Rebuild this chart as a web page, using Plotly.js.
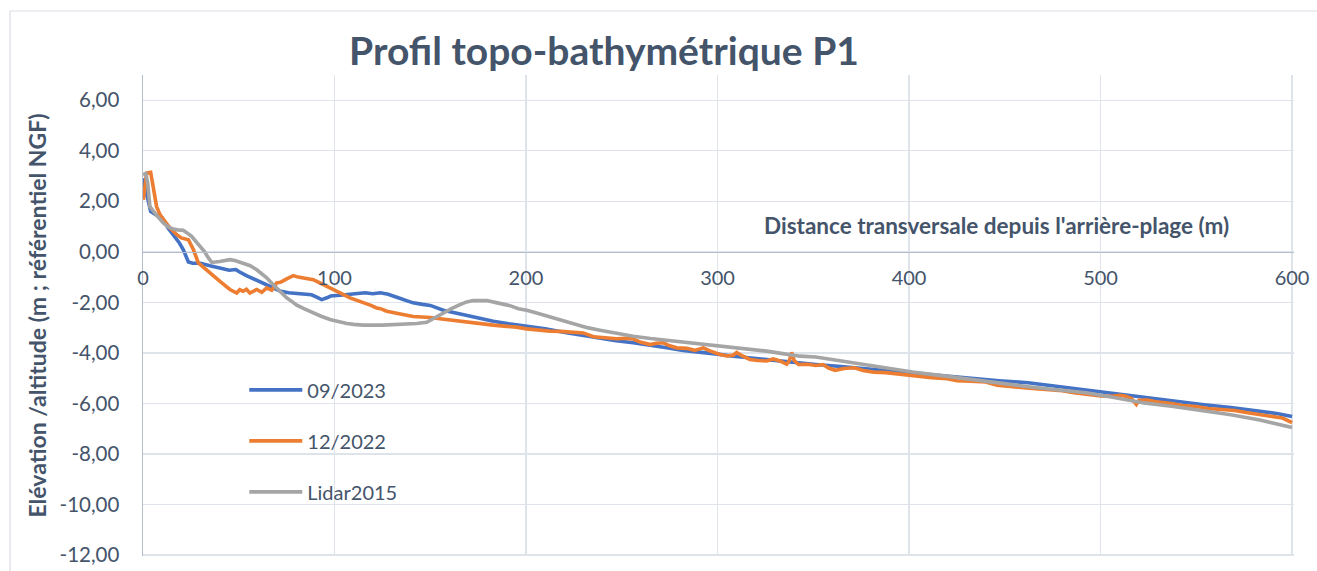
<!DOCTYPE html>
<html>
<head>
<meta charset="utf-8">
<script src="https://cdn.plot.ly/plotly-3.0.1.min.js"></script>
<style>html,body{margin:0;padding:0;background:#fff;}#chart{width:1317px;height:571px;}</style>
</head>
<body>
<div id="chart"></div>
<script>
// ---- Data ----
const seriesNames = ["09/2023", "12/2022", "Lidar2015"];

const x2023 = [0, 2, 4, 7, 10, 13, 16, 19, 21, 23.7, 26, 30, 35, 40, 45, 48.5, 50, 54, 58, 63, 67, 71.5, 76, 80, 84, 88, 91, 93.3, 96, 98, 103, 108, 112, 116, 120, 124, 128, 132.5, 137, 141, 146, 150, 156.8, 163, 169, 176, 182.9, 191, 200.4, 210, 221.2, 230, 238.6, 247, 256, 265, 273.5, 282, 290.9, 300, 308.2, 317, 325.7, 333, 339.6, 351.3, 366, 381.5, 401.8, 417, 432, 447, 462.2, 477, 492.5, 507, 522.7, 538, 552.9, 568, 583.2, 592, 600];
const y2023 = [2.91, 2.2, 1.6, 1.45, 1.35, 0.95, 0.67, 0.35, 0.09, -0.4, -0.45, -0.45, -0.55, -0.63, -0.73, -0.7, -0.78, -0.94, -1.08, -1.26, -1.4, -1.55, -1.62, -1.65, -1.66, -1.7, -1.8, -1.89, -1.82, -1.75, -1.72, -1.7, -1.65, -1.62, -1.66, -1.62, -1.68, -1.8, -1.92, -2.02, -2.08, -2.12, -2.31, -2.42, -2.52, -2.63, -2.75, -2.85, -2.94, -3.05, -3.2, -3.32, -3.44, -3.52, -3.6, -3.72, -3.8, -3.9, -3.96, -4.05, -4.13, -4.2, -4.26, -4.32, -4.37, -4.46, -4.55, -4.66, -4.81, -4.92, -5.02, -5.1, -5.18, -5.32, -5.47, -5.62, -5.77, -5.9, -6.04, -6.16, -6.3, -6.4, -6.52];

const x2022 = [0.2, 1, 1.9, 4, 5.5, 7.1, 9, 10.6, 14, 17.6, 20, 23.7, 26.3, 28.9, 32, 35, 40.2, 45.4, 48.9, 50.5, 52.3, 54, 55.8, 59.4, 62, 64.6, 67.2, 69.8, 72, 75, 78.5, 81, 83.7, 86, 88.9, 91, 93.3, 97, 101.1, 105, 108.1, 112, 115, 119, 122, 124, 127.3, 130, 132.5, 137, 141.1, 144.6, 150, 155, 160, 164, 169, 175, 178, 182.9, 190, 195, 200.4, 206, 212.5, 218, 224, 229.9, 235.2, 241, 247.4, 252, 256, 260, 264.8, 268, 271.7, 275, 278.7, 284, 288, 292.6, 296, 301.3, 305, 308.2, 310, 313, 316.9, 321, 325.7, 329, 332.6, 336.1, 337.5, 338.7, 340, 342.3, 347, 351.3, 355, 358, 361.4, 366, 371.5, 376, 381.5, 388, 395.7, 403, 411.8, 420, 425, 432, 440, 446, 452.2, 460, 466, 472.3, 480, 486, 492.5, 500, 506, 510, 512.6, 516, 518.7, 520, 524.7, 530, 536, 542.9, 550, 556, 563, 570, 576, 583.2, 590, 595, 600];
const y2022 = [2.06, 2.7, 3.12, 3.15, 2.4, 1.79, 1.45, 1.27, 0.95, 0.68, 0.55, 0.48, 0.09, -0.44, -0.65, -0.83, -1.17, -1.49, -1.63, -1.5, -1.56, -1.48, -1.63, -1.49, -1.6, -1.43, -1.52, -1.23, -1.2, -1.07, -0.94, -1.0, -1.03, -1.08, -1.1, -1.18, -1.26, -1.4, -1.56, -1.7, -1.82, -1.92, -2.0, -2.12, -2.22, -2.25, -2.35, -2.4, -2.42, -2.5, -2.56, -2.57, -2.6, -2.65, -2.7, -2.72, -2.79, -2.82, -2.86, -2.9, -2.95, -2.98, -3.05, -3.1, -3.14, -3.15, -3.19, -3.21, -3.36, -3.4, -3.44, -3.42, -3.45, -3.58, -3.67, -3.62, -3.6, -3.72, -3.8, -3.82, -3.9, -3.8, -3.92, -4.06, -4.12, -4.09, -3.98, -4.12, -4.26, -4.3, -4.32, -4.24, -4.32, -4.45, -4.3, -3.98, -4.3, -4.46, -4.45, -4.5, -4.46, -4.6, -4.69, -4.62, -4.59, -4.7, -4.76, -4.78, -4.85, -4.92, -4.98, -5.02, -5.1, -5.12, -5.15, -5.28, -5.34, -5.38, -5.42, -5.45, -5.5, -5.58, -5.64, -5.7, -5.72, -5.68, -5.71, -5.8, -6.04, -5.88, -5.87, -5.95, -6.0, -6.08, -6.12, -6.2, -6.24, -6.28, -6.36, -6.43, -6.5, -6.58, -6.76];

const x2015 = [0, 1.5, 2.5, 3.6, 7, 10.6, 13, 15.8, 18, 21, 23, 25.4, 27.5, 29.8, 32, 34, 35.9, 40, 45.4, 48, 52.4, 56, 59.4, 62, 64.6, 67, 69.8, 72, 75, 78, 80.3, 84, 88.9, 93, 97.6, 102, 106.4, 110, 115, 125, 134.2, 142.9, 148.1, 152, 156.8, 161, 165.5, 169, 172.5, 179.5, 185, 191.6, 196, 200.4, 206, 212.5, 219, 226.5, 232, 238.6, 247, 256, 265, 273.5, 282, 290.9, 300, 308.2, 316, 325.7, 334, 343.1, 351.3, 361, 371.5, 386, 401.8, 417, 432, 447, 462.2, 477, 492.5, 507, 522.7, 538, 552.9, 568, 583.2, 592, 600];
const y2015 = [3.05, 3.1, 2.7, 1.79, 1.45, 1.14, 1.0, 0.9, 0.87, 0.85, 0.75, 0.61, 0.42, 0.22, 0.02, -0.22, -0.42, -0.38, -0.31, -0.34, -0.44, -0.55, -0.71, -0.85, -1.03, -1.22, -1.43, -1.62, -1.82, -1.98, -2.11, -2.25, -2.42, -2.55, -2.68, -2.77, -2.84, -2.87, -2.9, -2.9, -2.88, -2.84, -2.79, -2.62, -2.42, -2.25, -2.09, -1.98, -1.93, -1.93, -2.02, -2.13, -2.25, -2.31, -2.43, -2.57, -2.72, -2.89, -3.0, -3.1, -3.22, -3.34, -3.43, -3.5, -3.56, -3.61, -3.7, -3.76, -3.85, -3.93, -4.03, -4.13, -4.16, -4.28, -4.39, -4.58, -4.76, -4.9, -5.05, -5.2, -5.34, -5.46, -5.58, -5.77, -5.98, -6.12, -6.28, -6.45, -6.66, -6.8, -6.95];

const xTickVals = [0, 100, 200, 300, 400, 500, 600];
const yTickVals = [-12, -10, -8, -6, -4, -2, 0, 2, 4, 6];
const yTickText = ["-12,00", "-10,00", "-8,00", "-6,00", "-4,00", "-2,00", "0,00", "2,00", "4,00", "6,00"];

const chartTitle = "Profil topo-bathymétrique P1";
const xTitle = "Distance transversale depuis l'arrière-plage (m)";
const yTitle = "Elévation /altitude (m ; référentiel NGF)";

// ---- Styles ----
const FONT = "Lato, 'Open Sans', sans-serif";
const TXT = "#44546A";
const colors = ["#4472C4", "#ED7D31", "#A5A5A5"];
const yRange = [-12.04, 7];

const traces = [
  {x: x2023, y: y2023, name: seriesNames[0], legendgroup: "a"},
  {x: x2022, y: y2022, name: seriesNames[1], legendgroup: "b"},
  {x: x2015, y: y2015, name: seriesNames[2], legendgroup: "c"}
].map((t, i) => Object.assign(t, {
  type: "scatter", mode: "lines",
  line: {color: colors[i], width: 3.6},
  hoverinfo: "skip"
}));

const layout = {
  width: 1317, height: 571,
  margin: {l: 143, r: 23, t: 75, b: 15},
  paper_bgcolor: "#ffffff", plot_bgcolor: "#ffffff",
  font: {family: FONT, color: TXT, size: 20},
  title: {
    text: "<b>" + chartTitle + "</b>",
    font: {family: FONT, size: 39, color: TXT},
    xref: "container", x: 604 / 1317, xanchor: "center",
    yref: "container", y: 1 - 51 / 571, yanchor: "middle"
  },
  showlegend: true,
  legend: {
    x: 0.088, y: 0.386, xanchor: "left", yanchor: "top",
    bgcolor: "rgba(0,0,0,0)", borderwidth: 0,
    font: {family: FONT, size: 20, color: TXT},
    tracegroupgap: 22, itemwidth: 53
  },
  xaxis: {
    range: [0, 601], tickvals: xTickVals, ticktext: xTickVals.map(String),
    showgrid: true, gridcolor: "#dfe3ea", gridwidth: 1.3,
    zeroline: false, showline: true, linecolor: "#b4bdcc", linewidth: 1.5,
    ticks: "", anchor: "free", ticklabelstandoff: 8,
    position: (0 - yRange[0]) / (yRange[1] - yRange[0]),
    tickfont: {family: FONT, size: 20, color: TXT},
    fixedrange: true
  },
  yaxis: {
    range: yRange, tickvals: yTickVals, ticktext: yTickText,
    showgrid: true, gridcolor: "#dfe3ea", gridwidth: 1.3,
    zeroline: false, showline: true, linecolor: "#b4bdcc", linewidth: 1.5,
    ticks: "", ticklabelstandoff: 18,
    tickfont: {family: FONT, size: 20.5, color: TXT},
    title: {text: "<b>" + yTitle + "</b>", font: {family: FONT, size: 23, color: TXT}, standoff: 6},
    fixedrange: true
  },
  annotations: [{
    text: "<b>" + xTitle + "</b>", xref: "x", yref: "y",
    x: 568, y: 1.03, xanchor: "right", yanchor: "middle",
    showarrow: false, font: {family: FONT, size: 22.5, color: TXT}
  }],
  shapes: [{
    type: "rect", xref: "paper", yref: "paper",
    x0: (10 - 143) / 1151, x1: 1.05, y0: -0.2, y1: (556 - 11) / 481,
    line: {color: "#d9dde3", width: 1.2}, fillcolor: "rgba(0,0,0,0)", layer: "below"
  }]
};

Plotly.newPlot("chart", traces, layout, {displayModeBar: false, staticPlot: true});
</script>
</body>
</html>
